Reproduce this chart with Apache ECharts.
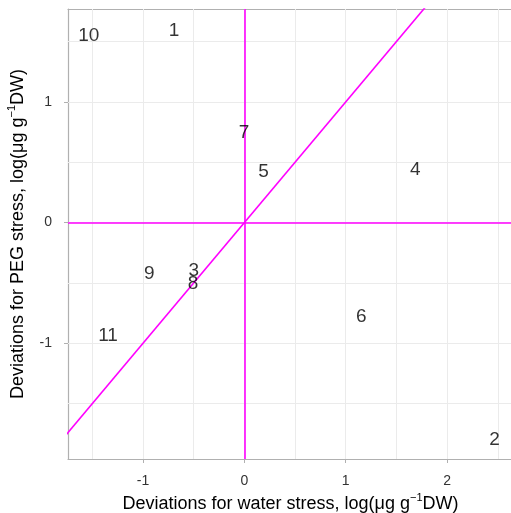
<!DOCTYPE html>
<html><head><meta charset="utf-8">
<script src="https://cdn.jsdelivr.net/npm/echarts@6/dist/echarts.min.js"></script>
<style>html,body{margin:0;padding:0;background:#fff;overflow:hidden}#c{width:511px;height:513px}</style>
</head><body><div id="c"></div>
<script>
// ---- data ----
const pointLabels = ['1','2','3','4','5','6','7','8','9','10','11'];
const waterDev = [-0.694, 2.468, -0.50, 1.686, 0.19, 1.154, -0.004, -0.507, -0.937, -1.535, -1.345];
const pegDev   = [1.591, -1.803, -0.398, 0.437, 0.418, -0.780, 0.742, -0.511, -0.428, 1.549, -0.940];
const xTicks = [-1, 0, 1, 2];
const yTicks = [-1, 0, 1];
const xMinorGrid = [-1.5, -0.5, 0.5, 1.5, 2.5];
const yMinorGrid = [-1.5, -0.5, 0.5, 1.5];
const xRange = [-1.74, 2.65];
const yRange = [-1.96, 1.77];
const abline = {intercept: 0, slope: 1};
const xAxisTitle = 'Deviations for water stress, log(\u03bcg g{sup|\u22121}DW)';
const yAxisTitle = 'Deviations for PEG stress, log(\u03bcg g{sup|\u22121}DW)';

const FONT = '"Liberation Sans", Arial, sans-serif';
const chart = echarts.init(document.getElementById('c'), null, {renderer: 'canvas'});
const gridX = xTicks.concat(xMinorGrid).map(v => ({xAxis: v}));
const gridY = yTicks.concat(yMinorGrid).map(v => ({yAxis: v}));
const abX = [xRange[0] - 1, xRange[1] + 1];
const abData = abX.map(x => [x, abline.intercept + abline.slope * x]);
const titleStyle = {
  fontSize: 18, color: '#000', fontFamily: FONT, lineHeight: 22,
  rich: {sup: {fontSize: 11, fontFamily: FONT, color: '#000', verticalAlign: 'top', lineHeight: 13}}
};
const AXIS_GREY = '#B0B0B0';
chart.setOption({
  animation: false,
  backgroundColor: '#fff',
  grid: {left: 68, right: -2, top: 9, bottom: 54, outerBoundsMode: 'none', containLabel: false, show: false},
  xAxis: [{
    type: 'value', min: xRange[0], max: xRange[1],
    name: xAxisTitle, nameLocation: 'middle', nameGap: 30, nameTextStyle: titleStyle,
    axisLine: {show: true, onZero: false, lineStyle: {color: AXIS_GREY, width: 1.2}},
    axisTick: {show: true, length: 4, customValues: xTicks, lineStyle: {color: AXIS_GREY}},
    axisLabel: {customValues: xTicks, fontSize: 14, color: '#333', fontFamily: FONT, margin: 15},
    splitLine: {show: false}
  }, {
    type: 'value', position: 'top', min: xRange[0], max: xRange[1],
    axisLine: {show: true, onZero: false, lineStyle: {color: AXIS_GREY, width: 1.2}},
    axisTick: {show: false}, axisLabel: {show: false}, splitLine: {show: false}
  }],
  yAxis: {
    type: 'value', min: yRange[0], max: yRange[1],
    name: yAxisTitle, nameLocation: 'middle', nameGap: 38, nameTextStyle: titleStyle,
    axisLine: {show: true, onZero: false, lineStyle: {color: AXIS_GREY, width: 1.2}},
    axisTick: {show: true, length: 4, customValues: yTicks, lineStyle: {color: AXIS_GREY}},
    axisLabel: {customValues: yTicks, fontSize: 14, color: '#333', fontFamily: FONT, margin: 16},
    splitLine: {show: false}
  },
  series: [
    {
      type: 'line', data: [], z: 1, silent: true,
      markLine: {z: 1, silent: true, symbol: 'none', label: {show: false}, animation: false,
        lineStyle: {color: '#EBEBEB', width: 1, type: 'solid'}, data: gridX.concat(gridY)}
    },
    {
      type: 'line', data: abData, z: 3, silent: true, showSymbol: false, symbol: 'none',
      lineStyle: {color: '#FF00FF', width: 1.6}, clip: true,
      markLine: {z: 2, silent: true, symbol: 'none', label: {show: false}, animation: false,
        lineStyle: {color: '#FF00FF', width: 1.6, type: 'solid'}, data: [{xAxis: 0}, {yAxis: 0}]}
    },
    {
      type: 'scatter', z: 4, symbolSize: 0, silent: true,
      data: waterDev.map((x, i) => ({value: [x, pegDev[i]], name: pointLabels[i]})),
      label: {show: true, position: 'inside', formatter: p => p.name, fontSize: 19, color: '#000', fontFamily: FONT}
    }
  ]
});
</script></body></html>
